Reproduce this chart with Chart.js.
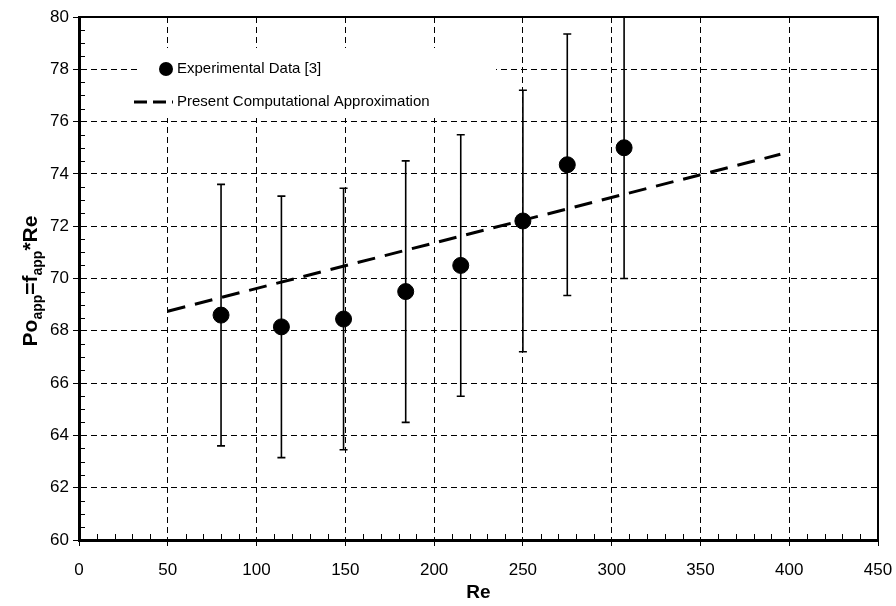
<!DOCTYPE html>
<html>
<head>
<meta charset="utf-8">
<script src="https://cdn.jsdelivr.net/npm/chart.js@4.4.1/dist/chart.umd.min.js"></script>
<style>body{margin:0;background:#fff}</style>
</head>
<body>
<canvas id="po-chart" width="896" height="606"></canvas>
<script>
// experimental data with error bars
var re = [80, 114, 149, 184, 215, 250, 275, 307];
var po = [68.6, 68.15, 68.45, 69.5, 70.5, 72.2, 74.35, 75.0];
var poErr = [5, 5, 5, 5, 5, 5, 5, 5];

// computed approximation (straight line)
var fitRe = [50, 395];
var fitPo = [68.75, 74.75];

var legendLabels = ['Experimental Data [3]', 'Present Computational Approximation'];

var FONT = '"Liberation Sans", Arial, sans-serif';

var extras = {
   id: 'extras',
   beforeDatasetsDraw: function (chart) {
      var ctx = chart.ctx, x = chart.scales.x, y = chart.scales.y;
      var a = chart.chartArea;
      ctx.save();
      // minor ticks (inside)
      ctx.strokeStyle = '#000';
      ctx.lineWidth = 1;
      ctx.beginPath();
      for (var v = 60.5; v < 80; v += 0.5) {
         if (Math.abs(v % 2) < 0.01) continue;
         var py = Math.round(y.getPixelForValue(v)) + 0.5;
         ctx.moveTo(a.left, py); ctx.lineTo(a.left + 6, py);
      }
      for (var u = 10; u < 450; u += 10) {
         if (u % 50 === 0) continue;
         var px = Math.round(x.getPixelForValue(u)) + 0.5;
         ctx.moveTo(px, a.bottom); ctx.lineTo(px, a.bottom - 6);
      }
      ctx.stroke();

      // frame top/right
      ctx.lineWidth = 2;
      ctx.beginPath();
      ctx.moveTo(a.left, a.top); ctx.lineTo(a.right, a.top); ctx.lineTo(a.right, a.bottom);
      ctx.stroke();

      // legend box
      ctx.fillStyle = '#fff';
      ctx.fillRect(138, 48, 358, 70);
      ctx.fillStyle = '#000';
      ctx.beginPath();
      ctx.arc(166, 69, 7, 0, Math.PI * 2);
      ctx.fill();
      ctx.lineWidth = 3;
      ctx.setLineDash([13, 6]);
      ctx.beginPath();
      ctx.moveTo(134, 102); ctx.lineTo(173, 102);
      ctx.stroke();
      ctx.setLineDash([]);
      ctx.font = '15px ' + FONT;
      ctx.textBaseline = 'middle';
      ctx.fillText(legendLabels[0], 177, 69);
      ctx.fillText(legendLabels[1], 177, 102);

      // error bars
      ctx.lineWidth = 1.6;
      ctx.beginPath();
      for (var i = 0; i < re.length; i++) {
         var cx = x.getPixelForValue(re[i]);
         var top = y.getPixelForValue(Math.min(po[i] + poErr[i], 80));
         var bot = y.getPixelForValue(po[i] - poErr[i]);
         ctx.moveTo(cx, top); ctx.lineTo(cx, bot);
         if (po[i] + poErr[i] < 80) { ctx.moveTo(cx - 4, top); ctx.lineTo(cx + 4, top); }
         ctx.moveTo(cx - 4, bot); ctx.lineTo(cx + 4, bot);
      }
      ctx.stroke();
      ctx.restore();
   },
   afterDraw: function (chart) {
      // y axis title with subscripts
      var ctx = chart.ctx;
      var parts = [['Po', 0], ['app', 1], ['=f', 0], ['app', 1], ['*Re', 0]];
      ctx.save();
      ctx.translate(30, 281);
      ctx.rotate(-Math.PI / 2);
      ctx.fillStyle = '#000';
      ctx.textBaseline = 'alphabetic';
      var w = 0;
      parts.forEach(function (p) {
         ctx.font = 'bold ' + (p[1] ? 14 : 21) + 'px ' + FONT;
         w += ctx.measureText(p[0]).width;
      });
      var cx = -w / 2;
      parts.forEach(function (p) {
         ctx.font = 'bold ' + (p[1] ? 14 : 21) + 'px ' + FONT;
         ctx.fillText(p[0], cx, p[1] ? 12 : 7);
         cx += ctx.measureText(p[0]).width;
      });
      ctx.restore();
   }
};

var chart = new Chart(document.getElementById('po-chart'), {
   type: 'scatter',
   data: {
      datasets: [{
         label: legendLabels[0],
         data: re.map(function (r, i) { return { x: r, y: po[i] }; }),
         backgroundColor: '#000',
         borderColor: '#000',
         pointRadius: 8,
         pointHoverRadius: 8
      }, {
         label: legendLabels[1],
         type: 'line',
         data: fitRe.map(function (r, i) { return { x: r, y: fitPo[i] }; }),
         borderColor: '#000',
         borderWidth: 3,
         borderDash: [18, 10],
         pointRadius: 0,
         fill: false
      }]
   },
   options: {
      responsive: false,
      animation: false,
      devicePixelRatio: 1,
      layout: { padding: { top: 17, right: 18, left: 0, bottom: 0 } },
      plugins: { legend: { display: false }, tooltip: { enabled: false } },
      scales: {
         x: {
            type: 'linear', min: 0, max: 450,
            afterFit: function (s) { s.height = 66; s.paddingRight = 0; s.paddingLeft = 0; },
            ticks: { stepSize: 50, color: '#000', font: { size: 17, family: FONT }, padding: 14, maxRotation: 0 },
            grid: { color: '#000', lineWidth: 1, tickLength: 6, tickColor: '#000' },
            border: { color: '#000', width: 3, dash: [6, 4] },
            title: { display: true, text: 'Re', color: '#000', font: { size: 19, weight: 'bold', family: FONT }, padding: { top: 0, bottom: 2 } }
         },
         y: {
            min: 60, max: 80,
            afterFit: function (s) { s.width = 79; s.paddingTop = 0; s.paddingBottom = 0; },
            ticks: { stepSize: 2, color: '#000', font: { size: 17, family: FONT }, padding: 4 },
            grid: { color: '#000', lineWidth: 1, tickLength: 6, tickColor: '#000' },
            border: { color: '#000', width: 3, dash: [6, 4] }
         }
      }
   },
   plugins: [extras]
});
</script>
</body>
</html>
